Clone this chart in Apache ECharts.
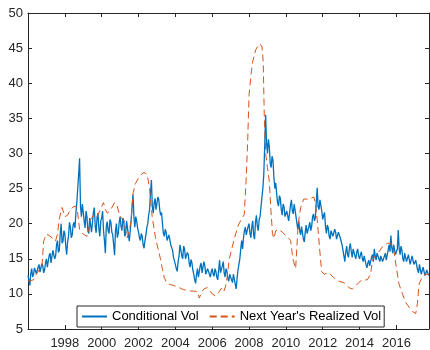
<!DOCTYPE html>
<html>
<head>
<meta charset="utf-8">
<script src="https://cdn.jsdelivr.net/npm/echarts@6/dist/echarts.min.js"></script>
<style>
  html, body { margin: 0; padding: 0; background: #fff; }
  #main { width: 430px; height: 350px; }
</style>
</head>
<body>
<div id="main"></div>
<script>
// conditional vol, read every 0.05 year from 1996.0 (one row per year)
var volStart = 1996.0;
var volStep = 0.05;
var volValues = [
  12.6, 12.0, 11.2, 12.9, 13.6, 12.4, 12.8, 13.7, 13.9, 12.9, 13.0, 13.8, 14.2, 13.1, 13.2, 14.3, 14.0, 13.0, 13.4, 14.4,
  15.0, 13.8, 14.0, 15.5, 15.8, 14.4, 14.6, 16.2, 16.4, 15.0, 15.4, 17.0, 17.6, 15.9, 16.2, 18.6, 20.0, 17.2, 17.5, 19.0,
  18.6, 16.8, 15.6, 17.4, 18.2, 20.2, 19.5, 18.0, 18.4, 19.8, 20.2, 19.4, 21.5, 23.0, 25.0, 27.0, 29.3, 22.5, 21.0, 22.8,
  22.6, 20.4, 19.4, 21.8, 21.0, 19.0, 18.6, 20.8, 20.6, 18.8, 19.0, 21.6, 22.3, 19.6, 18.7, 20.9, 21.5, 19.2, 18.2, 20.4,
  20.8, 21.8, 19.0, 17.6, 15.8, 19.6, 20.3, 19.0, 18.6, 20.6, 20.2, 18.8, 18.4, 17.0, 15.5, 19.0, 20.0, 18.0, 18.6, 20.2,
  21.0, 19.6, 19.0, 20.8, 20.4, 18.2, 18.5, 20.4, 20.2, 18.4, 17.5, 19.0, 20.5, 22.4, 24.2, 21.0, 19.5, 21.0, 20.4, 19.4,
  18.8, 18.0, 17.6, 18.6, 18.2, 17.0, 16.5, 17.6, 18.4, 19.4, 20.0, 21.2, 22.0, 24.4, 26.2, 22.4, 21.5, 23.0, 23.6, 22.0,
  21.8, 23.8, 23.4, 22.0, 21.2, 21.6, 20.0, 18.6, 18.2, 19.2, 18.8, 17.6, 17.4, 18.4, 18.2, 17.0, 16.8, 16.2, 15.2, 15.0,
  14.2, 13.6, 13.2, 14.6, 15.4, 17.0, 16.8, 15.4, 15.0, 16.8, 16.4, 15.0, 14.8, 15.9, 15.6, 14.4, 13.8, 14.9, 14.4, 13.4,
  12.8, 12.0, 11.5, 12.8, 13.6, 12.4, 12.6, 14.0, 14.4, 13.0, 13.2, 14.6, 14.0, 12.8, 12.6, 13.6, 13.8, 12.8, 12.4, 13.2,
  13.6, 12.8, 12.5, 13.6, 13.2, 12.4, 12.0, 13.4, 14.8, 13.0, 12.8, 14.0, 14.6, 13.0, 12.4, 13.6, 13.2, 12.2, 11.8, 12.8,
  13.0, 12.0, 11.6, 12.8, 12.6, 11.4, 10.7, 12.2, 13.4, 14.2, 15.0, 16.4, 17.6, 16.4, 18.0, 19.0, 19.5, 18.4, 18.2, 19.6,
  20.0, 18.6, 18.0, 19.6, 20.4, 18.4, 17.8, 20.2, 21.2, 19.6, 19.0, 20.6, 21.0, 22.4, 23.8, 25.0, 27.0, 31.0, 35.5, 31.5,
  30.0, 32.0, 31.0, 28.6, 28.0, 29.6, 29.0, 26.6, 25.0, 25.8, 24.2, 23.0, 22.5, 24.0, 23.6, 22.0, 21.2, 22.8, 22.4, 21.0,
  20.8, 21.8, 21.6, 20.4, 20.6, 22.6, 23.4, 21.8, 21.4, 22.8, 22.6, 21.0, 20.0, 19.2, 20.4, 19.0, 18.4, 19.6, 19.4, 17.8,
  17.4, 18.8, 19.8, 18.6, 18.4, 19.6, 20.2, 19.0, 19.6, 21.0, 21.4, 20.4, 20.8, 23.0, 25.1, 22.4, 22.0, 23.4, 23.6, 21.8,
  20.6, 21.2, 21.6, 19.6, 18.6, 19.8, 19.4, 18.2, 17.8, 19.0, 19.2, 18.2, 18.0, 19.2, 18.8, 17.8, 17.6, 18.8, 19.0, 18.0,
  17.8, 17.0, 16.2, 15.4, 14.6, 16.0, 16.8, 15.6, 15.2, 16.6, 17.2, 16.0, 15.2, 16.4, 16.6, 15.4, 15.0, 16.0, 16.4, 15.4,
  15.0, 15.6, 16.0, 15.0, 14.6, 15.4, 15.2, 14.2, 13.7, 14.4, 14.8, 14.0, 14.2, 15.2, 15.6, 14.6, 16.4, 15.4, 14.8, 15.8,
  16.0, 15.0, 14.6, 15.4, 15.6, 14.6, 14.4, 15.4, 15.8, 14.8, 15.0, 16.2, 17.0, 16.0, 18.3, 16.6, 15.8, 17.0, 16.8, 15.6,
  15.4, 16.4, 19.1, 16.4, 15.6, 16.8, 16.2, 15.0, 14.6, 15.8, 15.6, 14.6, 14.4, 15.6, 15.4, 14.2, 14.4, 15.4, 15.2, 14.2,
  14.0, 14.8, 14.6, 13.4, 13.0, 14.2, 14.0, 12.8, 12.8, 13.8, 13.6, 12.6, 12.8, 13.4, 13.2, 12.6
];

// next year's realized vol
var rvYears = [
  1996.0, 1996.3, 1996.45, 1996.6, 1996.76, 1996.85, 1997.0, 1997.15, 1997.3, 1997.49,
  1997.6, 1997.7, 1997.85, 1998.0, 1998.15, 1998.3, 1998.45, 1998.6, 1998.7, 1998.8,
  1998.95, 1999.2, 1999.3, 1999.4, 1999.57, 1999.75, 1999.93, 2000.1, 2000.2, 2000.3,
  2000.45, 2000.55, 2000.7, 2000.84, 2001.0, 2001.2, 2001.3, 2001.38, 2001.5, 2001.6,
  2001.7, 2001.83, 2002.0, 2002.15, 2002.3, 2002.47, 2002.6, 2002.74, 2002.92, 2003.05,
  2003.19, 2003.3, 2003.4, 2003.55, 2003.75, 2003.92, 2004.1, 2004.28, 2004.45, 2004.64,
  2004.8, 2005.0, 2005.2, 2005.3, 2005.42, 2005.55, 2005.73, 2005.88, 2006.0, 2006.18,
  2006.35, 2006.5, 2006.62, 2006.72, 2006.82, 2006.92, 2007.1, 2007.28, 2007.42, 2007.56,
  2007.74, 2007.83, 2007.92, 2008.0, 2008.1, 2008.19, 2008.37, 2008.55, 2008.7, 2008.77,
  2008.83, 2008.91, 2009.0, 2009.1, 2009.18, 2009.27, 2009.35, 2009.45, 2009.6, 2009.8,
  2010.08, 2010.26, 2010.38, 2010.53, 2010.67, 2010.8, 2010.97, 2011.25, 2011.52, 2011.6,
  2011.7, 2011.83, 2011.94, 2012.07, 2012.34, 2012.6, 2012.88, 2013.15, 2013.42, 2013.6,
  2013.79, 2013.95, 2014.15, 2014.42, 2014.6, 2014.7, 2014.88, 2015.05, 2015.24, 2015.51,
  2015.69, 2015.87, 2016.0, 2016.14, 2016.33, 2016.5, 2016.69, 2016.87, 2017.05, 2017.14,
  2017.23, 2017.42, 2017.6, 2017.77
];
var rvValues = [
  11.8, 12.0, 12.8, 13.4, 14.0, 17.5, 18.5, 18.3, 18.0, 17.5,
  18.5, 20.7, 22.3, 21.0, 21.2, 22.0, 22.4, 22.5, 21.5, 19.2,
  18.6, 18.2, 19.2, 20.6, 21.3, 21.0, 22.0, 23.0, 22.0, 21.5,
  21.8, 22.0, 23.0, 22.5, 21.0, 20.5, 19.0, 18.0, 19.0, 20.5,
  24.3, 25.7, 26.5, 27.0, 27.3, 27.0, 25.0, 21.0, 18.0, 16.5,
  15.0, 13.5, 12.3, 11.5, 11.3, 11.2, 11.0, 10.8, 10.6, 10.5,
  10.4, 10.4, 10.3, 9.4, 10.2, 10.7, 10.9, 10.4, 10.0, 9.7,
  10.2, 10.8, 10.3, 11.0, 12.5, 14.9, 16.8, 18.6, 19.8, 20.5,
  21.3, 25.6, 31.2, 38.3, 41.0, 43.0, 44.8, 45.6, 45.3, 43.0,
  35.0, 29.8, 28.0, 26.0, 22.3, 18.6, 17.9, 19.0, 19.2, 18.8,
  18.1, 17.6, 15.0, 13.6, 20.0, 22.3, 23.5, 23.5, 23.8, 22.9,
  20.6, 16.5, 13.2, 12.8, 13.0, 12.3, 11.8, 11.6, 10.9, 10.7,
  11.1, 11.6, 12.0, 12.0, 12.8, 14.8, 15.5, 16.0, 16.7, 17.2,
  17.2, 16.0, 13.7, 11.4, 10.0, 8.8, 8.1, 7.5, 7.2, 8.6,
  11.4, 12.5, 12.8, 12.8
];

var seriesNames = ['Conditional Vol', "Next Year's Realized Vol"];
var xMin = 1996, xMax = 2017.77, xStep = 2;
var yMin = 5, yMax = 50, yStep = 5;

var volData = volValues.map(function (v, i) {
  return [volStart + i * volStep, v];
});
var rvData = rvYears.map(function (t, i) {
  return [t, rvValues[i]];
});

var axisColor = '#262626';
var mainDiv = document.getElementById('main');
var myChart = echarts.init(mainDiv, null, { renderer: 'canvas' });

function boxAxis(pos, min, max, step, labels) {
  return {
    type: 'value',
    position: pos,
    min: min,
    max: max,
    interval: step,
    axisLine: { show: true, onZero: false, lineStyle: { color: axisColor, width: 1 } },
    axisTick: { show: true, inside: true, length: 4, lineStyle: { color: axisColor } },
    splitLine: { show: false },
    axisLabel: labels ? {
      show: true,
      color: axisColor,
      fontFamily: 'Liberation Sans, Arial, sans-serif',
      fontSize: 13,
      margin: pos === 'left' ? 5 : 8,
      showMinLabel: pos === 'left',
      showMaxLabel: pos === 'left',
      formatter: function (v) { return String(v); }
    } : { show: false }
  };
}

var option = {
  animation: false,
  backgroundColor: '#ffffff',
  grid: { left: 28, right: 1, top: 13, bottom: 17, containLabel: false },
  legend: {
    left: 77,
    top: 306,
    padding: [4, 3, 4, 4],
    itemGap: 10,
    itemWidth: 25,
    itemHeight: 10,
    borderColor: axisColor,
    borderWidth: 1,
    borderRadius: 0,
    backgroundColor: '#ffffff',
    itemStyle: { opacity: 0 },
    textStyle: { color: '#000000', fontSize: 13, fontFamily: 'Liberation Sans, Arial, sans-serif' },
    data: seriesNames
  },
  xAxis: [
    boxAxis('bottom', xMin, xMax, xStep, true),
    boxAxis('top', xMin, xMax, xStep, false)
  ],
  yAxis: [
    boxAxis('left', yMin, yMax, yStep, true),
    boxAxis('right', yMin, yMax, yStep, false)
  ],
  series: [
    {
      name: seriesNames[0],
      type: 'line',
      data: volData,
      showSymbol: false,
      symbol: 'none',
      lineStyle: { color: '#0072BD', width: 1.3 },
      itemStyle: { color: '#0072BD' },
      z: 2
    },
    {
      name: seriesNames[1],
      type: 'line',
      data: rvData,
      showSymbol: false,
      symbol: 'none',
      lineStyle: { color: '#D95319', width: 1, type: [7, 4] },
      itemStyle: { color: '#D95319' },
      z: 3
    }
  ]
};
myChart.setOption(option);
</script>
</body>
</html>
